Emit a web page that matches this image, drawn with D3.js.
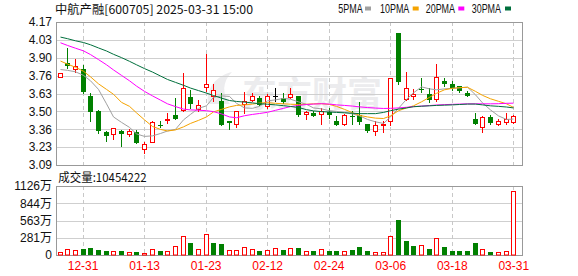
<!DOCTYPE html>
<html><head><meta charset="utf-8">
<script src="https://cdn.jsdelivr.net/npm/d3@7"></script>
<style>body{margin:0;background:#fff;} svg{display:block;}</style>
</head><body><svg id="c" width="578" height="276"></svg>
<script>
const title = "中航产融[600705] 2025-03-31 15:00";
const volumeLabel = "成交量:10454222";
const dates = ["12-26","12-27","12-30","12-31","01-02","01-03","01-06","01-07","01-08","01-09","01-10","01-13","01-14","01-15","01-16","01-17","01-20","01-21","01-22","01-23","01-24","01-27","02-05","02-06","02-07","02-10","02-11","02-12","02-13","02-14","02-17","02-18","02-19","02-20","02-21","02-24","02-25","02-26","02-27","02-28","03-03","03-04","03-05","03-06","03-07","03-10","03-11","03-12","03-13","03-14","03-17","03-18","03-19","03-20","03-21","03-24","03-25","03-26","03-27","03-31"];
const tickDates = ["12-31","01-13","01-23","02-12","02-24","03-06","03-18","03-31"];
const open  = [3.758,3.862,3.814,3.812,3.610,3.500,3.340,3.322,3.350,3.322,3.337,3.209,3.262,3.395,3.430,3.465,3.509,3.602,3.514,3.678,3.612,3.572,3.423,3.400,3.552,3.584,3.597,3.534,3.610,3.597,3.607,3.610,3.476,3.481,3.476,3.490,3.420,3.403,3.462,3.468,3.403,3.350,3.390,3.425,4.090,3.590,3.610,3.665,3.627,3.585,3.728,3.703,3.686,3.634,3.440,3.375,3.450,3.400,3.414,3.415];
const high  = [3.785,3.973,3.890,3.845,3.635,3.505,3.350,3.372,3.352,3.360,3.355,3.266,3.420,3.425,3.486,3.597,3.786,3.655,3.584,3.925,3.703,3.633,3.423,3.501,3.640,3.635,3.610,3.627,3.673,3.635,3.673,3.610,3.496,3.496,3.522,3.520,3.459,3.476,3.496,3.566,3.403,3.420,3.420,3.748,4.090,3.790,3.667,3.748,3.670,3.850,3.750,3.724,3.690,3.652,3.484,3.460,3.466,3.440,3.484,3.466];
const low   = [3.752,3.820,3.789,3.636,3.425,3.330,3.270,3.289,3.234,3.312,3.254,3.183,3.262,3.375,3.406,3.440,3.496,3.520,3.496,3.648,3.577,3.395,3.362,3.375,3.484,3.577,3.542,3.520,3.572,3.559,3.597,3.459,3.440,3.460,3.403,3.446,3.395,3.390,3.403,3.403,3.340,3.315,3.340,3.395,3.700,3.580,3.585,3.643,3.566,3.577,3.690,3.660,3.640,3.610,3.400,3.340,3.400,3.390,3.400,3.410];
const close = [3.782,3.835,3.839,3.638,3.490,3.350,3.310,3.368,3.327,3.345,3.254,3.249,3.418,3.390,3.436,3.440,3.673,3.552,3.546,3.703,3.655,3.395,3.408,3.501,3.572,3.610,3.542,3.610,3.610,3.567,3.627,3.471,3.491,3.463,3.501,3.466,3.395,3.466,3.455,3.418,3.350,3.395,3.400,3.748,3.720,3.670,3.627,3.660,3.580,3.754,3.698,3.670,3.650,3.614,3.400,3.450,3.408,3.425,3.440,3.459];
const ma5  = [3.811,3.805,3.794,3.767,3.726,3.661,3.552,3.453,3.412,3.374,3.325,3.306,3.310,3.328,3.347,3.359,3.431,3.472,3.518,3.537,3.601,3.612,3.608,3.556,3.521,3.518,3.533,3.574,3.582,3.593,3.587,3.567,3.548,3.521,3.514,3.500,3.495,3.487,3.476,3.461,3.434,3.416,3.404,3.453,3.518,3.586,3.635,3.680,3.665,3.658,3.665,3.669,3.673,3.678,3.620,3.559,3.506,3.461,3.434,3.437];
const ma10 = [3.875,3.852,3.828,3.798,3.756,3.703,3.661,3.624,3.563,3.533,3.484,3.431,3.381,3.359,3.347,3.355,3.378,3.404,3.427,3.453,3.491,3.510,3.529,3.540,3.544,3.550,3.558,3.561,3.556,3.552,3.549,3.547,3.549,3.552,3.553,3.547,3.533,3.510,3.485,3.465,3.453,3.444,3.441,3.461,3.500,3.521,3.537,3.567,3.601,3.631,3.658,3.669,3.674,3.677,3.646,3.616,3.590,3.571,3.552,3.525];
const ma20 = [4.013,3.993,3.972,3.952,3.924,3.886,3.847,3.808,3.767,3.726,3.686,3.646,3.612,3.580,3.552,3.531,3.512,3.506,3.504,3.500,3.493,3.476,3.453,3.447,3.462,3.472,3.479,3.488,3.503,3.518,3.531,3.540,3.547,3.550,3.553,3.550,3.544,3.540,3.535,3.529,3.524,3.520,3.517,3.518,3.521,3.526,3.531,3.535,3.539,3.543,3.546,3.548,3.550,3.552,3.552,3.552,3.552,3.553,3.556,3.557];
const ma30 = [4.056,4.044,4.028,4.015,3.998,3.974,3.951,3.926,3.901,3.873,3.847,3.818,3.792,3.762,3.736,3.714,3.692,3.671,3.652,3.633,3.615,3.595,3.577,3.570,3.565,3.559,3.553,3.549,3.544,3.538,3.532,3.524,3.508,3.499,3.493,3.490,3.487,3.484,3.481,3.478,3.478,3.478,3.487,3.500,3.512,3.521,3.530,3.534,3.537,3.540,3.542,3.544,3.547,3.550,3.550,3.544,3.537,3.533,3.528,3.521];
const volume = [44,103,77,98,114,82,65,65,65,49,54,33,92,65,65,147,310,201,92,343,201,180,82,84,128,95,71,82,109,82,109,114,65,65,92,65,65,65,82,131,65,44,44,305,571,228,147,158,98,272,131,65,65,65,201,92,49,44,65,1045.4222];
const volUp = [1,1,1,0,0,0,0,1,0,1,0,1,1,0,1,1,1,0,1,1,0,0,1,1,1,1,0,1,1,0,1,0,1,0,1,0,0,1,0,0,0,1,1,1,0,0,0,1,0,1,0,0,0,0,0,1,0,1,1,1];
const priceTicks = [4.17,4.035,3.90,3.765,3.63,3.495,3.36,3.225,3.09];
const priceTickLabels = ["4.17","4.03","3.90","3.76","3.63","3.50","3.36","3.23","3.09"];
const volTicks = [1126,844.5,563,281.5,0];
const volTickLabels = ["1126万","844万","563万","281万","0"];
const legendNames = ["5PMA","10PMA","20PMA","30PMA"];
const maSeries = [ma5, ma10, ma20, ma30];

const RED = "#ff0000", GREEN = "#008000";
const maColors = ["#a0a0a0","#f5a300","#ff00ff","#006f3c"];
const L = 56, R = 522, PT = 22, PB = 165, VT = 186, VB = 255;

const svg = d3.select("#c");
const x = d3.scaleBand().domain(dates).range([56.2, 517.6]);
const y = d3.scaleLinear().domain([3.09, 4.17]).range([PB, PT]);
const yv = d3.scaleLinear().domain([0, 1126]).range([VB, VT]);
const col = d => Math.floor(x(d) + x.bandwidth() / 2);
const py = v => Math.round(y(v));

function fit(sel, w) { sel.attr("textLength", w).attr("lengthAdjust", "spacingAndGlyphs"); return sel; }

// title
fit(svg.append("text").attr("x", 55).attr("y", 13.5).attr("font-family", "'Noto Sans CJK SC', sans-serif")
  .attr("font-size", 12).attr("fill", "#111").text(title), 198);

// legend
const legX = [338.3, 380, 425.7, 471.7], legW = [24.4, 29.3, 29.3, 29.3], legM = [365, 412.7, 458.3, 505];
legendNames.forEach((n, i) => {
  fit(svg.append("text").attr("x", legX[i]).attr("y", 13).attr("font-family", "'Liberation Sans', sans-serif")
    .attr("font-size", 12.5).attr("fill", "#111").text(n), legW[i]);
  svg.append("rect").attr("x", legM[i]).attr("y", 6.5).attr("width", 6).attr("height", 4).attr("fill", maColors[i]);
});

// watermark
svg.append("text").attr("x", 242).attr("y", 107).attr("font-family", "'Noto Sans CJK SC', sans-serif")
  .attr("font-size", 35).attr("font-weight", "bold").attr("fill", "#ececee").text("东方财富");
svg.append("path").attr("d", "M208,104 C206,88 216,76 232,72 C222,82 222,94 230,104 Z").attr("fill", "#ececee");

// grids
function grid(top, bot, ticks, sc) {
  const g = svg.append("g");
  g.selectAll(".h").data(ticks).join("line")
    .attr("x1", L).attr("x2", R).attr("y1", d => Math.round(sc(d)) + 0.5).attr("y2", d => Math.round(sc(d)) + 0.5)
    .attr("stroke", "#cfcfcf");
  g.selectAll(".v").data(tickDates).join("line")
    .attr("x1", d => col(d) + 0.5).attr("x2", d => col(d) + 0.5).attr("y1", top).attr("y2", bot)
    .attr("stroke", "#c8c8c8").attr("stroke-dasharray", "4,3");
  g.append("rect").attr("x", L + 0.5).attr("y", top + 0.5).attr("width", R - L).attr("height", bot - top)
    .attr("fill", "none").attr("stroke", "#999");
}
grid(PT, PB, priceTicks, y);
grid(VT, VB, volTicks, yv);

// axes
const ya = svg.append("g").attr("transform", `translate(${L},0)`)
  .call(d3.axisLeft(y).tickValues(priceTicks).tickFormat((d, i) => priceTickLabels[i]).tickSize(0).tickPadding(4));
const yva = svg.append("g").attr("transform", `translate(${L},0)`)
  .call(d3.axisLeft(yv).tickValues(volTicks).tickFormat((d, i) => volTickLabels[i]).tickSize(0).tickPadding(4));
const xa = svg.append("g").attr("transform", `translate(0,${VB})`)
  .call(d3.axisBottom(x).tickValues(tickDates).tickSize(0).tickPadding(6));
[ya, yva, xa].forEach(a => {
  a.select(".domain").remove();
  a.selectAll("text").attr("font-family", "'Liberation Sans', 'Noto Sans CJK SC', sans-serif").attr("font-size", 12).attr("fill", "#111");
});
xa.selectAll("text").attr("fill", RED);

// volume label
fit(svg.append("text").attr("x", 58.3).attr("y", 182).attr("font-family", "'Noto Sans CJK SC', sans-serif")
  .attr("font-size", 12).attr("fill", "#111").text(volumeLabel), 88.4);

// candles
const cg = svg.append("g");
dates.forEach((d, i) => {
  const c = col(d), o = open[i], cl = close[i];
  const color = cl > o ? RED : (cl < o ? GREEN : "#000");
  cg.append("line").attr("x1", c + 0.5).attr("x2", c + 0.5).attr("y1", py(high[i])).attr("y2", py(low[i]) + 1)
    .attr("stroke", color);
  const top = py(Math.max(o, cl)), bot = py(Math.min(o, cl));
  if (cl > o) {
    cg.append("rect").attr("x", c - 1.5).attr("y", top + 0.5).attr("width", 4).attr("height", Math.max(bot - top, 1))
      .attr("fill", "#fff").attr("stroke", RED);
  } else {
    cg.append("rect").attr("x", c - 2).attr("y", top).attr("width", 5).attr("height", Math.max(bot - top, 1)).attr("fill", color);
  }
});

// MA lines
maSeries.forEach((s, k) => {
  svg.append("path").datum(s)
    .attr("d", d3.line().x((v, i) => col(dates[i]) + 0.5).y(v => y(v)))
    .attr("fill", "none").attr("stroke", maColors[k]).attr("stroke-width", 1);
});

// volume bars
const vg = svg.append("g");
dates.forEach((d, i) => {
  const c = col(d), top = Math.round(yv(volume[i]));
  if (volUp[i]) {
    vg.append("rect").attr("x", c - 1.5).attr("y", top + 0.5).attr("width", 4).attr("height", VB - top - 0.5)
      .attr("fill", "#fff").attr("stroke", RED);
  } else {
    vg.append("rect").attr("x", c - 2).attr("y", top).attr("width", 5).attr("height", VB - top).attr("fill", GREEN);
  }
});
</script></body></html>
